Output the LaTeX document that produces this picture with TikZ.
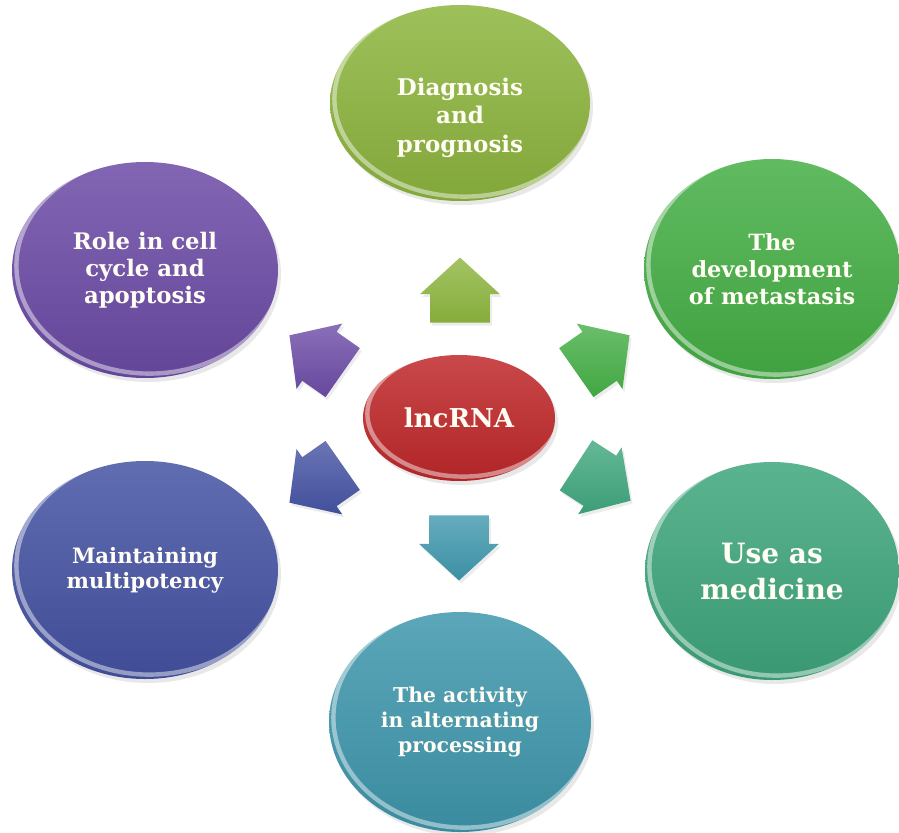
\documentclass[tikz,border=0pt]{standalone}
\usepackage{fontspec}
\setmainfont{DejaVu Serif}
\usetikzlibrary{shapes.geometric,shapes.arrows,shadows}

\definecolor{diagC}{HTML}{8DB53E}
\definecolor{metaC}{HTML}{45AF45}
\definecolor{mediC}{HTML}{3EA67C}
\definecolor{procC}{HTML}{3F97AD}
\definecolor{multC}{HTML}{4553A3}
\definecolor{cellC}{HTML}{6C4BA6}
\definecolor{lncC}{HTML}{C0282A}
\definecolor{labelC}{HTML}{FFFDF4}

\tikzset{
  % glossy ellipse: #1 colour, #2 x radius, #3 y radius (in pt)
  bubble/.style n args={3}{
    ellipse, inner sep=0pt, align=center, text=labelC,
    minimum width=2*#2, minimum height=2*#3,
    top color=#1!85!white, bottom color=#1!92!black,
    drop shadow={opacity=0.18, shadow xshift=1.5pt, shadow yshift=-2pt},
    path picture={
      \draw[white, opacity=0.45, line width=2.2pt]
        ([shift={(2.2pt,2.2pt)}]path picture bounding box.center)
        ellipse [x radius=#2, y radius=#3];
    }
  },
  % block arrow: shaft 29.5pt wide, head 39.5pt wide, 32.5pt long
  blockarrow/.style={
    single arrow, anchor=tip, inner xsep=0pt, inner ysep=14.75pt,
    minimum height=32.5pt,
    single arrow head extend=5pt, single arrow tip angle=95,
    top color=#1!80!white, bottom color=#1!95!black,
    drop shadow={opacity=0.15, shadow xshift=1pt, shadow yshift=-1.5pt}
  }
}

\begin{document}
\begin{tikzpicture}[x=0.5pt, y=0.5pt]
  \path[use as bounding box] (0,0) rectangle (899,832);

  % outer topics
  \node[bubble={diagC}{65pt}{49pt}, font=\bfseries\fontsize{11.5}{14.3}\selectfont]
    (diag) at (460,729)
    {\raisebox{-7.5pt}[\height][\depth]{\begin{tabular}{@{}c@{}}Diagnosis\\and\\prognosis\end{tabular}}};
  \node[bubble={cellC}{66.5pt}{54pt}, font=\bfseries\fontsize{11.4}{13.6}\selectfont]
    (cell) at (145,562) {Role in cell\\cycle and\\apoptosis};
  \node[bubble={metaC}{64pt}{55pt}, font=\bfseries\fontsize{11.2}{13.5}\selectfont]
    (meta) at (772,563) {The\\development\\of metastasis};
  \node[bubble={multC}{66.5pt}{54.5pt}, font=\bfseries\fontsize{10.6}{12.6}\selectfont]
    (mult) at (145,262) {Maintaining\\multipotency};
  \node[bubble={mediC}{63.5pt}{54.5pt}, font=\bfseries\fontsize{14}{18}\selectfont]
    (medi) at (772,261) {Use as\\medicine};
  \node[bubble={procC}{65.5pt}{55pt}, font=\bfseries\fontsize{10.2}{12.4}\selectfont]
    (proc) at (460,110) {The activity\\in alternating\\processing};

  % central topic
  \node[bubble={lncC}{48pt}{31.5pt}, font=\bfseries\fontsize{13}{15}\selectfont]
    (lnc) at (459,414) {lncRNA};

  % block arrows from the centre outwards, placed by their tips
  \node[blockarrow=diagC, rotate=90]   (toDiag) at (460,575) {};
  \node[blockarrow=metaC, rotate=35]   (toMeta) at (630,497) {};
  \node[blockarrow=mediC, rotate=-33]  (toMedi) at (631,331) {};
  \node[blockarrow=procC, rotate=-90]  (toProc) at (459,251) {};
  \node[blockarrow=multC, rotate=-145] (toMult) at (289,329) {};
  \node[blockarrow=cellC, rotate=145]  (toCell) at (289,497) {};
\end{tikzpicture}
\end{document}
